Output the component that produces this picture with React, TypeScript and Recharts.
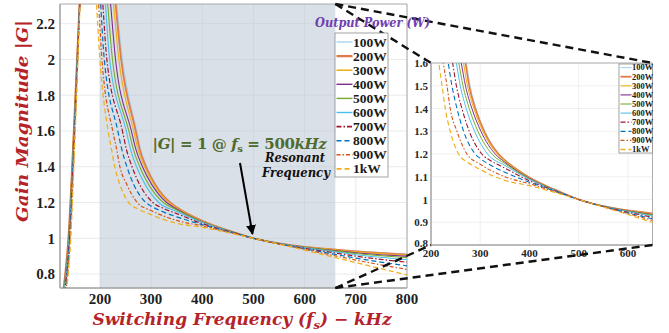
import React from 'react';
import { LineChart, Line, XAxis, YAxis, CartesianGrid, ReferenceArea } from 'recharts';

// ---------- data ----------
const SERIES_NAMES = ['100W', '200W', '300W', '400W', '500W', '600W', '700W', '800W', '900W', '1kW'];

// [switching frequency kHz, gain |G|]
const S_100W: [number, number][] = [[128.0, 0.70], [138.2, 1.0], [148.8, 1.6], [161.5, 2.4], [176, 3.2], [229.5, 2.4], [244, 2.0], [272, 1.6], [279.5, 1.5], [291.5, 1.4], [309.5, 1.3], [338.5, 1.2], [350, 1.176], [400, 1.098], [450, 1.045], [500, 1.0], [550, 0.971], [600, 0.953], [650, 0.940], [700, 0.929], [800, 0.912]];
const S_200W: [number, number][] = [[128.1, 0.70], [138.3, 1.0], [148.9, 1.6], [161.5, 2.4], [176, 3.2], [227.5, 2.4], [241.5, 2.0], [270, 1.6], [277.5, 1.5], [290, 1.4], [308, 1.3], [337.2, 1.2], [350, 1.173], [400, 1.097], [450, 1.045], [500, 1.0], [550, 0.971], [600, 0.952], [650, 0.939], [700, 0.927], [800, 0.909]];
const S_300W: [number, number][] = [[128.3, 0.70], [138.5, 1.0], [149.0, 1.6], [161.6, 2.4], [176, 3.2], [223.5, 2.4], [237, 2.0], [266, 1.6], [274, 1.5], [287.2, 1.4], [305.4, 1.3], [334.5, 1.2], [350, 1.169], [400, 1.095], [450, 1.044], [500, 1.0], [550, 0.971], [600, 0.951], [650, 0.937], [700, 0.924], [800, 0.905]];
const S_400W: [number, number][] = [[128.8, 0.70], [138.9, 1.0], [149.3, 1.6], [161.7, 2.4], [176, 3.2], [218, 2.4], [230.5, 2.0], [261.5, 1.6], [270, 1.5], [283.1, 1.4], [301.4, 1.3], [330.4, 1.2], [350, 1.164], [400, 1.093], [450, 1.043], [500, 1.0], [550, 0.970], [600, 0.950], [650, 0.934], [700, 0.919], [800, 0.899]];
const S_500W: [number, number][] = [[129.5, 0.70], [139.3, 1.0], [149.6, 1.6], [161.8, 2.4], [176, 3.2], [212.5, 2.4], [224.5, 2.0], [256.5, 1.6], [265, 1.5], [277.7, 1.4], [295.3, 1.3], [323.7, 1.2], [350, 1.158], [400, 1.091], [450, 1.043], [500, 1.0], [550, 0.970], [600, 0.949], [650, 0.931], [700, 0.915], [800, 0.892]];
const S_600W: [number, number][] = [[130.3, 0.70], [139.9, 1.0], [150.0, 1.6], [161.9, 2.4], [176, 3.2], [208.5, 2.4], [219, 2.0], [251.5, 1.6], [259.5, 1.5], [271.6, 1.4], [288.5, 1.3], [314.9, 1.2], [350, 1.150], [400, 1.088], [450, 1.041], [500, 1.0], [550, 0.970], [600, 0.947], [650, 0.927], [700, 0.908], [800, 0.881]];
const S_700W: [number, number][] = [[131.2, 0.70], [140.6, 1.0], [150.4, 1.6], [162.0, 2.4], [176, 3.2], [203.5, 2.4], [213.5, 2.0], [244, 1.6], [251.5, 1.5], [262.8, 1.4], [277.7, 1.3], [303.4, 1.2], [325, 1.166], [350, 1.138], [400, 1.082], [450, 1.040], [500, 1.0], [550, 0.969], [600, 0.944], [650, 0.922], [700, 0.900], [800, 0.866]];
const S_800W: [number, number][] = [[132.3, 0.70], [141.3, 1.0], [150.8, 1.6], [162.2, 2.4], [176, 3.2], [199.5, 2.4], [208.5, 2.0], [235, 1.6], [242.5, 1.5], [252.7, 1.4], [266.2, 1.3], [289.9, 1.2], [300, 1.180], [325, 1.146], [350, 1.120], [400, 1.076], [450, 1.038], [500, 1.0], [550, 0.969], [600, 0.941], [650, 0.915], [700, 0.889], [800, 0.846]];
const S_900W: [number, number][] = [[133.4, 0.70], [142.1, 1.0], [151.2, 1.6], [162.3, 2.4], [176, 3.2], [195.5, 2.4], [204, 2.0], [225, 1.6], [232.5, 1.5], [239, 1.4], [252.7, 1.3], [273, 1.2], [300, 1.155], [325, 1.124], [350, 1.100], [400, 1.069], [450, 1.035], [500, 1.0], [550, 0.968], [600, 0.938], [650, 0.908], [700, 0.878], [800, 0.826]];
const S_1KW: [number, number][] = [[134.5, 0.70], [143.0, 1.0], [151.7, 1.6], [162.5, 2.4], [176, 3.2], [191.5, 2.4], [200, 2.0], [216, 1.6], [222.5, 1.5], [229, 1.4], [239, 1.3], [256, 1.2], [275, 1.163], [300, 1.132], [325, 1.104], [350, 1.084], [400, 1.061], [450, 1.032], [500, 1.0], [550, 0.967], [600, 0.934], [650, 0.899], [700, 0.864], [800, 0.795]];

const SERIES_POINTS = [S_100W, S_200W, S_300W, S_400W, S_500W, S_600W, S_700W, S_800W, S_900W, S_1KW];

const MAIN_F_TICKS = [200, 300, 400, 500, 600, 700, 800];
const MAIN_G_TICKS = [0.8, 1, 1.2, 1.4, 1.6, 1.8, 2, 2.2];
const MAIN_F_DOMAIN: [number, number] = [122, 800];
const MAIN_G_DOMAIN: [number, number] = [0.722, 2.31];
const SHADE_RANGE: [number, number] = [200, 660];

const INSET_F_TICKS = [200, 300, 400, 500, 600];
const INSET_G_TICKS = [0.8, 0.9, 1, 1.1, 1.2, 1.3, 1.4, 1.5, 1.6];
const INSET_F_DOMAIN: [number, number] = [200, 650];
const INSET_G_DOMAIN: [number, number] = [0.8, 1.6];

// ---------- styles ----------
const SERIES_COLORS = ['#a8d4ee', '#e07a4a', '#edb120', '#7e2f8e', '#77ac30', '#4dbeee', '#a2142f', '#0072bd', '#d95319', '#edb120'];
const SERIES_DASH = [undefined, undefined, undefined, undefined, undefined, undefined, '5 2 1.5 2', '5 3', '4 2 1.5 2', '5 3'];
const SERIES_WIDTH = [1.1, 1.8, 1.2, 1.1, 1.1, 1.1, 1.2, 1.2, 1.2, 1.3];

const SERIF = '"Liberation Serif", "Times New Roman", serif';
const TITLE_FONT = '"DejaVu Serif", serif';
const DARK_RED = '#b5232a';

const MAIN = { w: 420, h: 333, margin: { top: 4, right: 13, bottom: 15, left: 8 }, yW: 52, xH: 30 };
const MAIN_BOX = { left: MAIN.margin.left + MAIN.yW, right: MAIN.w - MAIN.margin.right, top: MAIN.margin.top, bottom: MAIN.h - MAIN.margin.bottom - MAIN.xH };

const INSET = { x: 400, y: 55, w: 269, h: 210, margin: { top: 8, right: 16.5, bottom: 6, left: 7 }, yW: 24, xH: 14 };
const INSET_BOX = {
  left: INSET.x + INSET.margin.left + INSET.yW,
  right: INSET.x + INSET.w - INSET.margin.right,
  top: INSET.y + INSET.margin.top,
  bottom: INSET.y + INSET.h - INSET.margin.bottom - INSET.xH,
};

const toObjs = (pts: [number, number][]) => pts.map(([f, g]) => ({ f, g }));

function seriesLines(width: number) {
  return SERIES_POINTS.map((pts, i) => (
    <Line
      key={SERIES_NAMES[i]}
      data={toObjs(pts)}
      dataKey="g"
      type="monotone"
      stroke={SERIES_COLORS[i]}
      strokeWidth={SERIES_WIDTH[i] * width}
      strokeDasharray={SERIES_DASH[i]}
      dot={false}
      activeDot={false}
      isAnimationActive={false}
    />
  ));
}

function InsetYTick(props: any) {
  const { x, y, payload } = props;
  const lowest = payload.value === INSET_G_DOMAIN[0];
  return (
    <text x={x} y={y} dy={lowest ? -2.5 : 0} dominantBaseline="central" textAnchor="end" fill="#262626" fontSize={11} fontWeight="bold" fontFamily={SERIF}>
      {String(payload.value)}
    </text>
  );
}

function LegendBox({ x, y, w, h, step, first, lineLen, fontSize }: { x: number; y: number; w: number; h: number; step: number; first: number; lineLen: number; fontSize: number }) {
  return (
    <g>
      <rect x={x} y={y} width={w} height={h} fill="#fff" stroke="#8c8c8c" strokeWidth={0.8} />
      {SERIES_NAMES.map((n, i) => {
        const cy = y + first + i * step;
        return (
          <g key={n}>
            <line x1={x + 1.5} x2={x + 1.5 + lineLen} y1={cy} y2={cy} stroke={SERIES_COLORS[i]} strokeWidth={SERIES_WIDTH[i] * (fontSize > 10 ? 1.3 : 1)} strokeDasharray={SERIES_DASH[i]} />
            <text x={x + 2 + lineLen} y={cy + fontSize * 0.34} fontFamily={SERIF} fontWeight="bold" fontSize={fontSize} fill="#1a1a1a">{n}</text>
          </g>
        );
      })}
    </g>
  );
}

export default function App() {
  const fx = (f: number) => MAIN_BOX.left + ((f - MAIN_F_DOMAIN[0]) / (MAIN_F_DOMAIN[1] - MAIN_F_DOMAIN[0])) * (MAIN_BOX.right - MAIN_BOX.left);
  const shadeRight = fx(SHADE_RANGE[1]);
  const dashStyle = { stroke: '#111', strokeWidth: 2.4, strokeDasharray: '8 5' };

  return (
    <div style={{ position: 'absolute', left: 0, top: 0, width: 669, height: 333, background: '#fff', overflow: 'hidden' }}>
      <div style={{ position: 'absolute', left: 0, top: 0 }}>
        <LineChart width={MAIN.w} height={MAIN.h} margin={MAIN.margin}>
          <CartesianGrid stroke="#e4e4e4" strokeWidth={0.8} verticalValues={MAIN_F_TICKS} horizontalValues={MAIN_G_TICKS} fill="#fff" />
          <ReferenceArea x1={SHADE_RANGE[0]} x2={SHADE_RANGE[1]} y1={MAIN_G_DOMAIN[0]} y2={MAIN_G_DOMAIN[1]} fill="#bcc7d3" fillOpacity={0.55} stroke="none" ifOverflow="hidden" />
          <XAxis dataKey="f" type="number" domain={MAIN_F_DOMAIN} ticks={MAIN_F_TICKS} allowDataOverflow height={MAIN.xH} interval={0}
            tickLine={false} tickSize={0} tickMargin={5} axisLine={{ stroke: '#9a9a9a' }}
            tick={{ fill: '#1f1f1f', fontSize: 15, fontWeight: 'bold', fontFamily: SERIF }} />
          <YAxis type="number" domain={MAIN_G_DOMAIN} ticks={MAIN_G_TICKS} allowDataOverflow width={MAIN.yW} interval={0}
            tickLine={false} tickSize={0} tickMargin={5} axisLine={{ stroke: '#9a9a9a' }}
            tick={{ fill: '#1f1f1f', fontSize: 15, fontWeight: 'bold', fontFamily: SERIF }} />
          {seriesLines(1)}
          <ReferenceArea x1={MAIN_F_DOMAIN[0]} x2={MAIN_F_DOMAIN[1]} y1={MAIN_G_DOMAIN[0]} y2={MAIN_G_DOMAIN[1]} fill="none" stroke="#a8a8a8" strokeWidth={1} />
        </LineChart>
      </div>

      <div style={{ position: 'absolute', left: INSET.x, top: INSET.y }}>
        <LineChart width={INSET.w} height={INSET.h} margin={INSET.margin}>
          <CartesianGrid stroke="#ececec" strokeWidth={0.8} verticalValues={INSET_F_TICKS} horizontalValues={INSET_G_TICKS} fill="#fff" />
          <XAxis dataKey="f" type="number" domain={INSET_F_DOMAIN} ticks={INSET_F_TICKS} allowDataOverflow height={INSET.xH} interval={0}
            tickLine={false} tickSize={0} tickMargin={4} axisLine={{ stroke: '#a0a0a0' }}
            tick={{ fill: '#262626', fontSize: 11, fontWeight: 'bold', fontFamily: SERIF }} />
          <YAxis type="number" domain={INSET_G_DOMAIN} ticks={INSET_G_TICKS} allowDataOverflow width={INSET.yW} interval={0}
            tickLine={false} tickSize={0} tickMargin={3} axisLine={{ stroke: '#a0a0a0' }}
            tick={<InsetYTick />} />
          {seriesLines(0.9)}
          <ReferenceArea x1={INSET_F_DOMAIN[0]} x2={INSET_F_DOMAIN[1]} y1={INSET_G_DOMAIN[0]} y2={INSET_G_DOMAIN[1]} fill="none" stroke="#b0b0b0" strokeWidth={1} />
        </LineChart>
      </div>

      <svg width={669} height={333} style={{ position: 'absolute', left: 0, top: 0, pointerEvents: 'none' }}>
        <defs>
          <marker id="arrowHead" viewBox="0 0 10 10" refX="9" refY="5" markerWidth="5" markerHeight="5" orient="auto-start-reverse">
            <path d="M0,0 L10,5 L0,10 z" fill="#000" />
          </marker>
        </defs>

        {/* axis titles */}
        <text x={28} y={121} transform="rotate(-90 28 121)" textAnchor="middle" fontFamily={TITLE_FONT} fontWeight="bold" fontStyle="italic" fontSize={17} fill={DARK_RED} textLength={202} lengthAdjust="spacingAndGlyphs">
          Gain Magnitude |G|
        </text>
        <text x={242} y={324.5} textAnchor="middle" fontFamily={TITLE_FONT} fontWeight="bold" fontStyle="italic" fontSize={17} fill={DARK_RED}>
          Switching Frequency (f<tspan fontSize={11.5} dy={4}>s</tspan><tspan dy={-4}>) − kHz</tspan>
        </text>

        {/* annotation */}
        <text x={239.5} y={148.5} textAnchor="middle" fontFamily={TITLE_FONT} fontWeight="bold" fontSize={15} letterSpacing={-0.4} fill="#4e6b2e">
          |<tspan fontStyle="italic">G</tspan>| = 1 @ <tspan fontStyle="italic">f</tspan><tspan fontSize={10} dy={3}>s</tspan><tspan dy={-3}> = 500</tspan><tspan fontStyle="italic">kHz</tspan>
        </text>
        <text x={295} y={162} textAnchor="middle" fontFamily={TITLE_FONT} fontWeight="bold" fontStyle="italic" fontSize={12} fill="#111" textLength={60} lengthAdjust="spacingAndGlyphs">Resonant</text>
        <text x={296} y={176.5} textAnchor="middle" fontFamily={TITLE_FONT} fontWeight="bold" fontStyle="italic" fontSize={12} fill="#111" textLength={68} lengthAdjust="spacingAndGlyphs">Frequency</text>
        <line x1={240} y1={163} x2={252.5} y2={234} stroke="#000" strokeWidth={2} markerEnd="url(#arrowHead)" />

        {/* zoom connectors */}
        <line x1={shadeRight} y1={MAIN_BOX.top} x2={INSET_BOX.left} y2={INSET_BOX.top} style={dashStyle} />
        <line x1={shadeRight} y1={MAIN_BOX.top} x2={INSET_BOX.right} y2={INSET_BOX.top} style={dashStyle} />
        <line x1={shadeRight} y1={MAIN_BOX.bottom} x2={INSET_BOX.left} y2={INSET_BOX.bottom} style={dashStyle} />
        <line x1={shadeRight} y1={MAIN_BOX.bottom} x2={INSET_BOX.right} y2={INSET_BOX.bottom} style={dashStyle} />

        {/* legends */}
        <text x={315} y={27} fontFamily={TITLE_FONT} fontWeight="bold" fontStyle="italic" fontSize={12} fill="#7040b0" textLength={115} lengthAdjust="spacingAndGlyphs">Output Power (W)</text>
        <LegendBox x={335} y={33} w={53} h={144} step={14.1} first={9} lineLen={16} fontSize={13.5} />
        <LegendBox x={619} y={64} w={33.5} h={89} step={9.1} first={3.6} lineLen={11} fontSize={8.5} />
      </svg>
    </div>
  );
}
